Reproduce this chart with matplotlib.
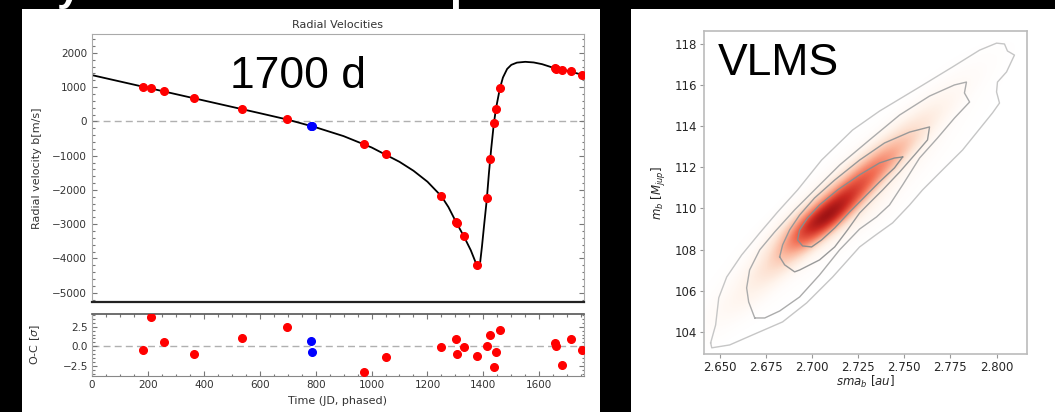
import matplotlib
matplotlib.use('Agg')
import matplotlib.pyplot as plt
from matplotlib.patches import Rectangle
from matplotlib.ticker import MultipleLocator
from matplotlib.transforms import Affine2D
from matplotlib.colors import LinearSegmentedColormap
import numpy as np

# phased radial velocities, instrument 1 (days, m/s) and O-C in sigma
rv_time = [181, 211, 258, 364, 535, 699, 974, 1052, 1249, 1302, 1305, 1329, 1376,
           1414, 1423, 1437, 1445, 1459, 1657, 1660, 1680, 1714, 1754]
rv_value = [991, 971, 875, 688, 367, 67, -671, -953, -2178, -2927, -2960, -3335, -4190,
            -2227, -1108, -58, 349, 971, 1545, 1535, 1496, 1458, 1359]
rv_oc = [-0.47, 3.74, 0.54, -1.01, 1.09, 2.40, -3.28, -1.39, -0.09, 0.88, -1.01, -0.09, -1.22,
         0.04, 1.39, -2.65, -0.72, 2.10, 0.38, 0.08, -2.36, 0.96, -0.47]

# instrument 2
rv2_time = [785, 787]
rv2_value = [-137, -140]
rv2_oc = [0.67, -0.72]

# best-fit keplerian, sampled along the phase
model_time = [0, 100, 200, 300, 400, 500, 600, 700, 800, 900, 1000, 1100, 1150, 1200, 1250,
              1275, 1300, 1330, 1355, 1376, 1382, 1388, 1395, 1403, 1412, 1420, 1428, 1437,
              1445, 1459, 1470, 1485, 1500, 1520, 1550, 1580, 1610, 1650, 1700, 1760]
model_value = [1350, 1165, 980, 795, 610, 425, 240, 52, -172, -430, -760, -1180, -1440, -1760,
               -2185, -2500, -2900, -3350, -3760, -4190, -4250, -4150, -3650, -3000, -2300,
               -1500, -800, -100, 370, 960, 1280, 1530, 1650, 1715, 1738, 1720, 1670, 1565,
               1480, 1345]

# posterior density of m_b vs sma_b: ridge line, per-row peak and cross profile
ridge_x0 = 2.7068
ridge_y0 = 109.64
ridge_slope = 0.01115
row_y = [103.0, 103.5, 104.0, 104.5, 105.0, 105.5, 106.0, 106.5, 107.0, 107.5, 108.0,
         108.5, 109.0, 109.5, 110.0, 110.5, 111.0, 111.5, 112.0, 112.5, 113.0, 113.5,
         114.0, 114.5, 115.0, 115.5, 116.0, 116.5, 117.0, 117.5, 118.0, 118.5]
row_peak = [0.005, 0.012, 0.02, 0.035, 0.06, 0.085, 0.11, 0.15, 0.21, 0.28, 0.42,
            0.60, 0.80, 0.93, 0.90, 0.80, 0.70, 0.61, 0.53, 0.45, 0.36, 0.27,
            0.20, 0.15, 0.11, 0.075, 0.055, 0.035, 0.022, 0.012, 0.006, 0.0]
cross_dx = [-0.040, -0.035, -0.030, -0.025, -0.020, -0.015, -0.010, -0.005, 0.000, 0.005,
            0.010, 0.015, 0.020, 0.025, 0.030, 0.035, 0.040, 0.045, 0.050]
cross_rel = [0.00, 0.00, 0.01, 0.035, 0.08, 0.26, 0.50, 0.84, 1.00, 0.93,
             0.62, 0.25, 0.12, 0.065, 0.03, 0.015, 0.005, 0.00, 0.00]

# density contours (sma_b, m_b), outermost first
c1_x = [2.6451, 2.6478, 2.6495, 2.6538, 2.6619, 2.6717, 2.6814, 2.6922, 2.7052, 2.7220,
        2.7366, 2.7583, 2.7761, 2.7908, 2.8000, 2.8043, 2.8059, 2.8097, 2.8054, 2.8005,
        2.8000, 2.8016, 2.7978, 2.7816, 2.7707, 2.7599, 2.7529, 2.7437, 2.7339, 2.7258,
        2.7112, 2.6971, 2.6841, 2.6679, 2.6554, 2.6457]
c1_y = [103.47, 104.34, 105.66, 106.67, 107.74, 108.81, 109.83, 110.90, 112.35, 113.81,
        114.73, 115.90, 116.87, 117.69, 118.03, 117.99, 117.65, 117.45, 116.63, 116.14,
        115.66, 115.12, 114.64, 112.84, 111.87, 110.90, 110.17, 109.30, 108.67, 108.13,
        106.67, 105.41, 104.49, 103.86, 103.37, 103.23]
c2_x = [2.6690, 2.6657, 2.6646, 2.6662, 2.6717, 2.6798, 2.6906, 2.7014, 2.7150, 2.7312,
        2.7475, 2.7637, 2.7772, 2.7837, 2.7826, 2.7854, 2.7772, 2.7680, 2.7583, 2.7491,
        2.7420, 2.7350, 2.7258, 2.7150, 2.7041, 2.6933, 2.6825, 2.6744]
c2_y = [104.68, 105.46, 106.14, 107.01, 107.99, 108.86, 109.93, 110.90, 112.11, 113.33,
        114.54, 115.46, 116.00, 116.14, 115.61, 115.17, 114.39, 113.42, 112.45, 111.14,
        110.17, 109.59, 109.00, 107.99, 106.77, 105.70, 105.02, 104.68]
c3_x = [2.6825, 2.6841, 2.6879, 2.6933, 2.7014, 2.7123, 2.7258, 2.7393, 2.7529, 2.7637,
        2.7626, 2.7556, 2.7475, 2.7383, 2.7312, 2.7258, 2.7193, 2.7123, 2.7041, 2.6933,
        2.6906, 2.6852]
c3_y = [107.65, 108.23, 108.96, 109.68, 110.51, 111.38, 112.35, 113.18, 113.71, 113.96,
        113.33, 112.60, 111.77, 110.90, 110.27, 109.78, 108.96, 108.13, 107.50, 107.01,
        106.92, 107.26]
c4_x = [2.7491, 2.7447, 2.7366, 2.7285, 2.7204, 2.7123, 2.7052, 2.6998, 2.6949, 2.6922,
        2.6933, 2.6976, 2.7041, 2.7139, 2.7258, 2.7366, 2.7447]
c4_y = [112.50, 111.97, 111.29, 110.56, 109.83, 109.05, 108.47, 108.13, 108.18, 108.47,
        108.96, 109.54, 110.17, 110.90, 111.63, 112.21, 112.45]


def closed(xs, ys):
    return list(xs) + [xs[0]], list(ys) + [ys[0]]


def style_rv_axis(ax):
    for side in ['left', 'right', 'top']:
        ax.spines[side].set_color('#aaaaaa')
    ax.tick_params(which='both', direction='in', colors='#777777', labelcolor='#333333',
                   labelsize=7.5, width=0.8)
    ax.tick_params(which='major', length=3.5)
    ax.tick_params(which='minor', length=1.8)


def main():
    plt.rcParams['font.family'] = 'DejaVu Sans'
    plt.rcParams['mathtext.fontset'] = 'dejavusans'

    fig = plt.figure(figsize=(10.55, 4.12), dpi=100, facecolor='black')

    # white slide panels
    fig.patches.append(Rectangle((22 / 1055, 0), 578 / 1055, 403 / 412, transform=fig.transFigure,
                                 facecolor='white', edgecolor='none', zorder=-5))
    fig.patches.append(Rectangle((631 / 1055, 0), 424 / 1055, 403 / 412, transform=fig.transFigure,
                                 facecolor='white', edgecolor='none', zorder=-5))

    # ---- radial velocities ----
    ax = fig.add_axes([92 / 1055, 110 / 412, 492 / 1055, 268 / 412])
    ax.plot(model_time, model_value, color='black', lw=1.3, zorder=2)
    ax.axhline(0, color='#b0b0b0', ls='--', lw=1.0, dashes=(5, 3), zorder=1)
    ax.plot(rv_time, rv_value, 'o', color='red', ms=5.5, zorder=3)
    ax.plot(rv2_time, rv2_value, 'o', color='blue', ms=5.5, zorder=3)
    ax.set_xlim(0, 1760)
    ax.set_ylim(-5270, 2550)
    ax.yaxis.set_major_locator(MultipleLocator(1000))
    ax.yaxis.set_minor_locator(MultipleLocator(200))
    style_rv_axis(ax)
    ax.spines['bottom'].set_color('#222222')
    ax.spines['bottom'].set_linewidth(1.6)
    ax.tick_params(axis='x', which='both', bottom=False, labelbottom=False)
    ax.tick_params(axis='y', which='both', left=True, right=True)
    ax.set_title('Radial Velocities', fontsize=8, color='#333333', pad=4)
    ax.set_ylabel('Radial velocity b[m/s]', fontsize=8, color='#333333')
    ax.yaxis.set_label_coords(-0.102, 0.5)

    axr = fig.add_axes([92 / 1055, 36 / 412, 492 / 1055, 62 / 412])
    axr.axhline(0, color='#b0b0b0', ls='--', lw=1.0, dashes=(5, 3), zorder=1)
    axr.plot(rv_time, rv_oc, 'o', color='red', ms=5.5, zorder=3)
    axr.plot(rv2_time, rv2_oc, 'o', color='blue', ms=5.5, zorder=3)
    axr.set_xlim(0, 1760)
    axr.set_ylim(-3.75, 4.1)
    axr.set_yticks([-2.5, 0.0, 2.5])
    axr.set_yticklabels(['\u22122.5', '0.0', '2.5'])
    axr.xaxis.set_major_locator(MultipleLocator(200))
    axr.xaxis.set_minor_locator(MultipleLocator(50))
    axr.yaxis.set_minor_locator(MultipleLocator(0.5))
    style_rv_axis(axr)
    axr.spines['bottom'].set_color('#888888')
    axr.spines['top'].set_color('#555555')
    axr.spines['top'].set_linewidth(1.2)
    axr.tick_params(which='both', top=True, right=True, pad=3)
    axr.set_xlabel('Time (JD, phased)', fontsize=8, color='#333333')
    axr.xaxis.set_label_coords(0.5, -0.32)
    axr.xaxis.label.set_va('top')
    axr.set_ylabel('O-C [$\\sigma$]', fontsize=8, color='#333333')
    axr.yaxis.set_label_coords(-0.102, 0.5)

    fig.text(230 / 1055, 324 / 412, '1700 d', fontsize=32, color='black',
             family='Liberation Sans', va='baseline')

    # ---- posterior m_b vs sma_b ----
    axk = fig.add_axes([704 / 1055, 58 / 412, 323 / 1055, 323 / 412])
    dens = np.outer(row_peak, cross_rel)
    step_x = cross_dx[1] - cross_dx[0]
    step_y = row_y[1] - row_y[0]
    shear = Affine2D(np.array([[1.0, ridge_slope, ridge_x0 - ridge_slope * ridge_y0],
                               [0.0, 1.0, 0.0],
                               [0.0, 0.0, 1.0]]))
    cmap = LinearSegmentedColormap.from_list(
        'kde_reds', [(0.0, '#ffffff'), (0.1, '#fff4ec'), (0.2, '#fde2d2'),
                     (0.35, '#fbb69c'), (0.55, '#f26a50'), (0.75, '#cc2a22'),
                     (1.0, '#7a0009')])
    axk.imshow(dens, origin='lower', aspect='auto', interpolation='bicubic', cmap=cmap,
               vmin=0, vmax=1.0,
               extent=[cross_dx[0] - step_x / 2, cross_dx[-1] + step_x / 2,
                       row_y[0] - step_y / 2, row_y[-1] + step_y / 2],
               transform=shear + axk.transData, zorder=1)
    for xs, ys, col in [(c1_x, c1_y, '#c6c6c6'), (c2_x, c2_y, '#acacac'),
                        (c3_x, c3_y, '#999999'), (c4_x, c4_y, '#8c8c8c')]:
        px, py = closed(xs, ys)
        axk.plot(px, py, color=col, lw=1.0, zorder=2)
    axk.set_xlim(2.6415, 2.8165)
    axk.set_ylim(102.93, 118.62)
    axk.set_xticks([2.650, 2.675, 2.700, 2.725, 2.750, 2.775, 2.800])
    axk.set_xticklabels(['2.650', '2.675', '2.700', '2.725', '2.750', '2.775', '2.800'])
    axk.set_yticks([104, 106, 108, 110, 112, 114, 116, 118])
    for s in axk.spines.values():
        s.set_color('#bbbbbb')
        s.set_linewidth(1.2)
    axk.tick_params(direction='out', length=3, width=0.8, colors='#999999',
                    labelcolor='#262626', labelsize=8.5, pad=2)
    axk.set_xlabel('$sma_b$ [$au$]', fontsize=8.5, color='#262626')
    axk.xaxis.set_label_coords(0.5, -0.062)
    axk.xaxis.label.set_va('top')
    axk.set_ylabel('$m_b$ [$M_{jup}$]', fontsize=8.5, color='#262626')
    axk.yaxis.set_label_coords(-0.111, 0.5)

    fig.text(718 / 1055, 337 / 412, 'VLMS', fontsize=32, color='black',
             family='Liberation Sans', va='baseline')

    # slide title running off the top edge
    fig.text(57 / 1055, 1.0, 'y', fontsize=31, color='white', weight='bold',
             family='Liberation Sans', va='baseline')
    fig.text(449 / 1055, 1.0, 'p', fontsize=31, color='white', weight='bold',
             family='Liberation Sans', va='baseline')

    fig.savefig('out.png', dpi=100, facecolor='black')


if __name__ == '__main__':
    main()
